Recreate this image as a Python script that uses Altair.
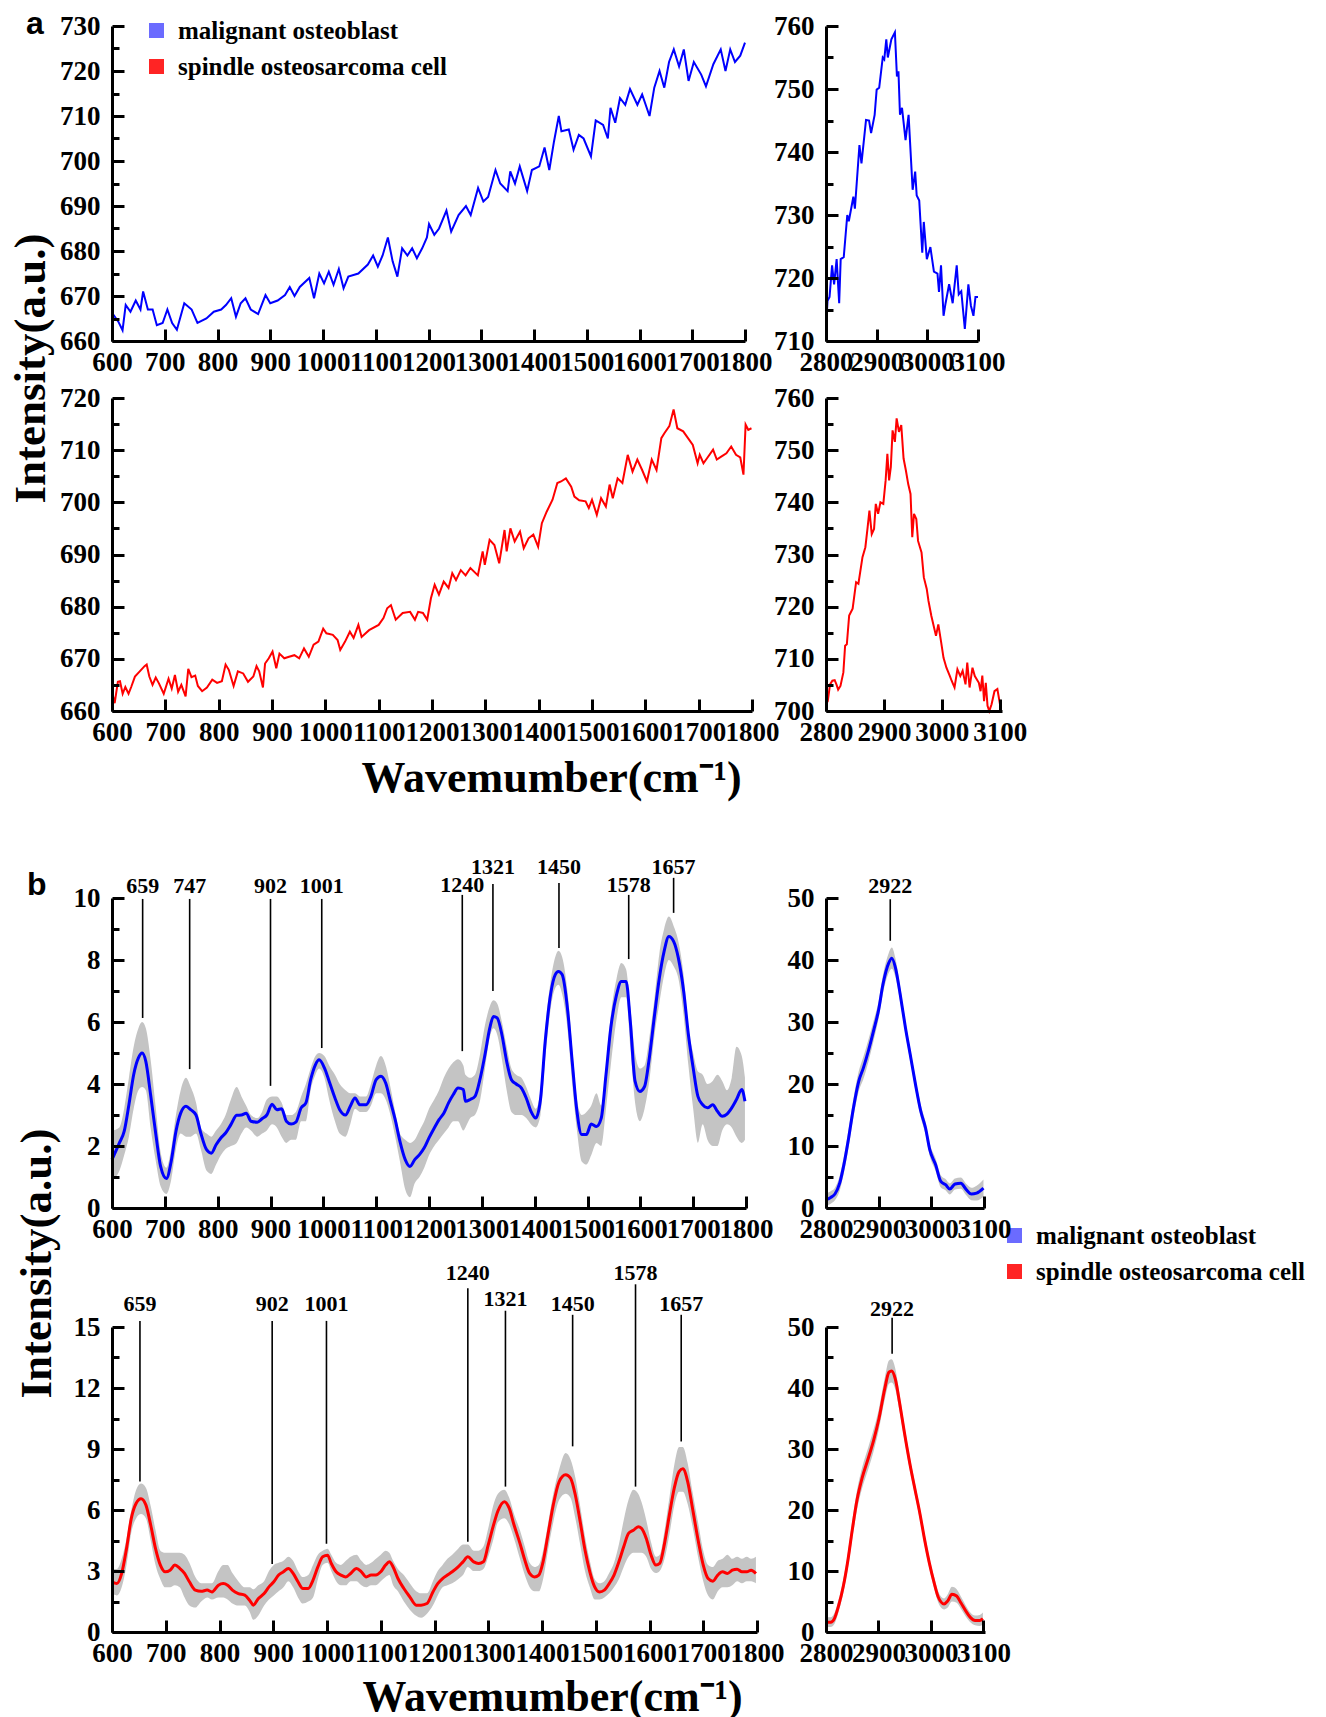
import altair as alt
import pandas as pd

SERIF = "Liberation Serif"
SANS = "Liberation Sans"
BLUE = "#0000ff"
RED = "#ff0000"
GRAY = "#c4c4c4"
SERIES = ["malignant osteoblast", "spindle osteosarcoma cell"]
LEGEND_COLORS = ["#6b6bff", "#ff2424"]

# ---------------- panel a : raw spectra ----------------
a1_wn = [600,603,612,620,626,635,645,654,659,668,677,685,696,705,714,723,737,751,762,779,793,807,816,826,835,844,853,863,877,891,900,914,928,937,946,956,974,983,993,1002,1011,1020,1030,1039,1048,1067,1085,1095,1104,1113,1123,1132,1141,1150,1160,1169,1178,1188,1197,1201,1211,1220,1234,1243,1257,1271,1280,1294,1304,1313,1327,1336,1350,1355,1364,1373,1387,1396,1410,1420,1429,1438,1447,1452,1466,1475,1485,1494,1508,1517,1531,1540,1545,1554,1563,1573,1582,1596,1605,1619,1628,1638,1647,1656,1665,1675,1684,1693,1703,1717,1726,1740,1754,1763,1772,1781,1791,1800]
a1_int = [666,665.8,664.3,662.4,668,666.5,669,667,671,667,667,663.5,664,667,664,662.5,668.4,667,664,665,666.5,667,668,669.5,665.4,668.4,669.5,667,666,670.2,668.4,669,670.2,672,670,672,674,669.5,675,672.8,675.4,672.5,676,671.7,674.3,675,677,679,676.5,679,683,677.7,674.3,680.6,679,680.6,678.4,680.6,683,686,683.6,685,689,684.3,688,690,688,694,691,692,698,695,693.3,697.7,695,698.8,693.3,698,698.8,703,698,704.4,710,706.6,707,702.5,705.8,705,701,709,708,705,711.8,708.5,714,712.5,716,712.5,714.8,710,716.3,720,716.3,722,724.8,721,724.8,717.8,722,719.2,716.6,721.5,724.8,720,724.8,722,723.4,726.3]

a1r_wn = [2800,2803,2807,2812,2816,2821,2826,2829,2835,2842,2845,2854,2857,2866,2870,2879,2885,2889,2896,2900,2905,2912,2915,2919,2922,2929,2936,2940,2943,2946,2950,2957,2963,2971,2976,2979,2984,2990,2993,2999,3006,3013,3020,3023,3027,3032,3036,3043,3050,3058,3062,3067,3074,3081,3086,3091,3095,3100]
a1r_int = [711.9,716.4,717,722,719,723,716,723,723.3,730,729,732.9,731,741.1,738.2,745.1,745,743,745.9,749.9,750.2,755,754.7,757.9,755,757.9,759,752,752.8,745.9,747,741.9,745.9,734,736.9,733.1,732.3,724,728.9,723,724.9,721,720.7,717.8,722,714,716,719,716,722,717.4,717.9,711.9,719,715.6,714,717,717]

a2_wn = [600,605,611,615,620,625,631,636,643,652,661,665,670,676,682,688,697,706,712,718,724,730,738,743,749,756,761,769,778,788,797,806,813,819,828,836,846,855,865,871,876,883,887,894,901,908,914,923,932,942,951,960,969,978,987,996,1002,1014,1023,1028,1037,1046,1053,1062,1068,1082,1100,1109,1116,1123,1132,1145,1159,1168,1174,1183,1191,1198,1205,1213,1222,1231,1238,1245,1254,1263,1272,1286,1295,1299,1308,1317,1326,1336,1340,1347,1355,1365,1372,1381,1390,1399,1406,1415,1426,1435,1442,1451,1461,1467,1476,1488,1494,1500,1509,1517,1526,1533,1539,1548,1557,1567,1576,1585,1594,1603,1612,1621,1630,1636,1645,1653,1660,1671,1680,1689,1698,1702,1709,1716,1727,1734,1743,1752,1761,1770,1778,1784,1788,1793,1799]
a2_int = [663.7,661.5,665.6,665.7,663.3,664.6,663.3,664.6,666.6,667.6,668.6,668.9,666.6,665,666.4,665.3,663.3,666.2,664.3,666.9,663.7,665,662.8,668.1,666.5,666.8,664.8,663.8,664.5,666,665.4,665.7,668.9,667.9,664.8,667.6,667.2,665.6,666.6,668.6,667.6,664.5,669.1,670.1,671.4,668.2,671,670.1,670.4,670.7,670.1,672,670.4,672.7,673.3,675.8,674.9,674.6,673.6,671.7,673.3,675.2,674,676.5,674.2,675.5,676.5,677.8,679.7,680.3,677.5,678.8,679,677.5,679,678.8,677.5,681.6,684.2,682.3,684.8,683.6,686.4,685.1,687,686,687.4,686,690.6,688,692.8,691.8,688.3,694.7,690.6,695,692.5,694.4,691.2,693.1,693.8,691.5,696,698.2,700.5,703.7,704,704.6,703,701.1,700.4,700.2,698.9,700.5,697.6,700.8,699.2,703.4,700.8,704.6,703.7,709.1,705.9,708.2,706.2,704,708.2,706.2,712.3,713.3,714.6,717.8,714.2,713.6,712.3,711,707.5,709.1,707.5,708.5,710.1,708.2,708.8,709.4,710.7,709.1,708.6,705.3,714.9,713.9,714.2]

a2r_wn = [2800,2803,2807,2811,2815,2818,2821,2825,2830,2833,2836,2840,2846,2852,2856,2863,2868,2872,2875,2879,2883,2886,2890,2894,2899,2903,2906,2909,2912,2915,2919,2922,2926,2930,2934,2938,2942,2946,2949,2952,2956,2959,2965,2969,2974,2977,2982,2990,2994,2999,3003,3008,3014,3017,3022,3027,3032,3036,3041,3044,3048,3053,3057,3064,3067,3070,3073,3076,3079,3082,3086,3091,3096,3101]
a2r_int = [701.3,701.9,705.1,705.8,705.9,705.1,704.1,704.8,707.4,712.5,712.8,718.3,719.6,724.7,724.4,729.5,731.4,735.3,738.4,733.9,734.9,739.7,737.8,740,739.7,744.2,749.3,744.2,746.8,753.8,751.6,756.1,753.5,754.8,748.4,746.1,743.5,741.6,733.3,737.8,736.8,732.6,730.4,725.6,723.4,721.1,718.2,714.4,716.6,713.1,710.2,708.3,706.7,705.8,704.5,708,706.7,707.7,705.1,709.3,704.5,708.3,706.7,705.4,703.8,706.8,701.9,705.4,701,700,701.3,703.8,704.2,701]

# ---------------- panel b : processed mean spectra with SD band ----------------
b1_wn = [600,614,623,632,641,650,657,664,673,683,692,703,712,721,730,740,749,759,768,779,788,797,806,815,825,836,845,854,863,875,884,893,903,912,921,930,939,948,958,967,976,985,992,1002,1011,1022,1031,1042,1051,1060,1069,1081,1090,1100,1109,1118,1127,1136,1145,1155,1164,1173,1182,1191,1200,1210,1219,1228,1237,1246,1255,1265,1269,1278,1287,1297,1306,1315,1322,1329,1338,1347,1356,1365,1375,1384,1393,1402,1411,1420,1430,1439,1445,1452,1462,1471,1480,1489,1498,1507,1517,1526,1535,1544,1555,1564,1573,1581,1590,1599,1608,1617,1627,1636,1645,1654,1663,1672,1682,1691,1700,1709,1718,1727,1737,1746,1755,1764,1773,1782,1792,1798]
b1_mean = [1.56,2.1,2.47,3.33,4.3,4.84,5.0,4.73,3.66,2.37,1.34,0.95,1.5,2.47,3.06,3.28,3.17,3.0,2.42,1.88,1.77,2.04,2.26,2.42,2.69,2.99,3.0,3.06,2.8,2.77,2.88,3.0,3.35,3.17,3.2,2.8,2.71,2.77,3.23,3.39,4.14,4.62,4.78,4.52,4.09,3.55,3.17,3.0,3.28,3.55,3.33,3.33,3.6,4.14,4.25,4.03,3.44,2.85,2.15,1.56,1.34,1.56,1.72,1.94,2.26,2.58,2.85,3.06,3.39,3.66,3.87,3.82,3.44,3.5,3.6,4.19,4.95,5.8,6.18,6.13,5.59,4.73,4.14,4.0,3.87,3.55,3.12,2.9,3.5,5.38,6.88,7.53,7.63,7.53,6.45,4.73,3.12,2.37,2.37,2.71,2.63,2.9,4.3,5.8,6.88,7.31,7.31,6.02,4.09,3.76,3.92,4.84,6.24,7.42,8.28,8.76,8.6,8.06,6.99,5.59,4.52,3.6,3.33,3.23,3.33,3.12,2.96,3.03,3.23,3.5,3.82,3.44]
b1_upper = [2.5,2.6,3.2,4.2,5.2,5.8,6.0,5.8,4.8,3.2,1.8,1.3,1.9,3.0,3.8,4.2,3.9,3.4,2.6,2.4,2.3,2.5,2.7,3.0,3.5,3.9,3.6,3.3,3.0,2.9,3.1,3.5,3.6,3.6,3.4,3.0,3.0,3.1,3.6,4.0,4.5,4.9,5.0,4.9,4.6,4.3,4.0,3.8,3.7,3.7,3.6,3.6,4.0,4.6,4.9,4.6,3.9,3.1,2.4,2.2,2.1,2.2,2.5,2.8,3.2,3.5,3.8,4.2,4.5,4.7,4.8,4.6,4.3,4.2,4.3,5.0,5.9,6.5,6.7,6.6,6.0,5.2,4.5,4.3,4.2,3.9,3.5,3.2,3.8,5.8,7.3,8.1,8.3,8.1,7.0,5.2,3.5,3.0,3.1,3.3,3.7,3.3,4.6,6.2,7.4,7.9,7.7,6.5,5.0,4.5,4.6,5.5,6.8,8.2,9.0,9.4,9.1,8.6,7.5,5.8,5.0,4.4,4.3,4.0,4.1,4.3,4.1,3.8,4.2,5.2,4.9,4.2]
b1_lower = [0.9,1.2,1.7,2.3,3.2,3.8,3.9,3.8,2.6,1.5,0.7,0.45,0.9,1.9,2.4,2.3,2.3,2.4,1.9,1.2,1.1,1.4,1.7,1.9,2.0,2.1,2.4,2.6,2.5,2.3,2.4,2.5,2.7,2.6,2.3,2.1,2.2,2.2,2.8,2.8,3.8,4.3,4.5,4.2,3.5,2.8,2.4,2.3,2.7,3.2,3.1,3.1,3.3,3.7,3.7,3.5,3.0,2.3,1.5,0.6,0.35,0.8,1.0,1.3,1.7,2.0,2.2,2.4,2.6,2.8,2.8,2.5,2.6,2.9,3.0,3.5,4.5,5.5,5.8,5.6,4.8,3.8,3.1,3.0,3.0,2.9,2.7,2.6,3.0,4.8,6.4,7.1,7.2,6.9,5.8,4.0,2.5,1.5,1.4,1.7,2.1,2.0,3.2,4.6,6.1,6.8,6.8,5.2,3.4,2.8,3.2,4.1,5.6,6.6,7.5,8.0,7.8,7.4,6.2,4.6,3.2,2.1,2.7,2.2,2.0,2.0,2.5,2.7,2.6,2.3,2.1,2.2]

b1r_wn = [2800,2809,2817,2826,2834,2843,2852,2862,2871,2881,2891,2900,2908,2919,2925,2932,2941,2951,2960,2970,2980,2989,2997,3008,3018,3027,3035,3045,3056,3066,3076,3086,3099]
b1r_mean = [1.34,1.7,2.26,4.0,7.0,11.3,16.1,20.4,22.6,25.5,28.8,32,36,39.5,40.3,38.7,34.4,29,24.7,19.9,15.6,12.9,9.4,7,4.3,3.76,3.06,3.87,4.0,3.0,2.26,2.4,3.2]
b1r_sd = [1.0,1.0,1.0,1.2,1.3,1.5,1.5,1.6,1.8,1.8,1.6,1.4,1.5,1.6,1.7,1.5,1.2,1.0,1.0,1.0,1.0,1.0,1.0,1.0,1.0,0.9,0.9,0.9,0.9,0.9,1.0,1.2,1.4]

b2_wn = [600,609,618,627,636,645,654,663,672,681,690,699,708,717,726,735,744,755,766,777,786,798,807,815,824,835,847,856,863,872,883,892,901,910,919,928,937,946,955,965,974,983,992,1001,1008,1017,1026,1035,1044,1055,1064,1073,1082,1091,1100,1109,1116,1123,1132,1143,1154,1166,1175,1186,1197,1206,1215,1224,1233,1244,1253,1262,1273,1282,1291,1300,1309,1318,1330,1339,1348,1359,1368,1377,1386,1394,1402,1411,1421,1432,1444,1453,1462,1471,1480,1489,1498,1507,1516,1525,1534,1543,1552,1561,1570,1579,1585,1594,1603,1612,1619,1628,1637,1646,1655,1662,1671,1680,1691,1700,1709,1718,1727,1736,1745,1754,1763,1772,1781,1789,1798]
b2_mean = [2.47,2.38,2.88,4.1,5.6,6.33,6.55,6.25,5.26,4.1,3.29,2.96,3.04,3.29,3.13,2.88,2.47,2.06,2.0,2.06,1.97,2.3,2.38,2.3,2.06,1.89,1.81,1.56,1.32,1.64,1.89,2.22,2.47,2.8,2.96,3.12,2.88,2.47,2.14,2.14,2.55,3.2,3.7,3.78,3.37,2.96,2.8,2.71,2.88,3.12,2.96,2.71,2.8,2.8,2.96,3.29,3.45,3.2,2.63,2.14,1.73,1.32,1.32,1.4,1.97,2.38,2.63,2.8,2.96,3.2,3.45,3.7,3.45,3.37,3.45,4.28,5.18,5.95,6.41,6.09,5.26,4.36,3.54,2.88,2.71,2.8,3.45,4.77,6.25,7.4,7.73,7.57,6.74,5.43,4.03,2.96,2.22,1.97,2.06,2.38,2.8,3.45,4.19,4.85,5.0,5.18,5.1,4.6,3.78,3.29,3.37,4.36,5.76,7.07,7.89,8.03,7.4,6.09,4.44,3.29,2.63,2.5,2.8,2.96,2.88,3.04,3.09,2.96,2.96,3.04,2.88]
b2_upper = [3.1,3.1,3.6,4.6,6.0,7.0,7.3,7.1,6.2,5.0,4.0,3.9,3.9,3.9,3.9,3.8,3.4,2.7,2.4,2.4,2.4,3.0,3.3,3.3,2.9,2.5,2.2,2.2,2.1,2.3,2.5,3.0,3.3,3.4,3.5,3.7,3.5,3.0,2.7,2.8,3.3,3.8,4.0,4.1,3.8,3.4,3.3,3.5,3.7,3.8,3.5,3.3,3.4,3.6,3.8,4.0,3.9,3.5,3.1,2.8,2.4,2.0,1.9,1.9,2.5,3.0,3.3,3.6,3.8,4.1,4.3,4.3,4.0,4.0,4.2,5.1,6.2,6.8,7.0,6.6,5.8,5.0,4.2,3.4,3.2,3.3,4.0,5.3,6.8,8.0,8.8,8.5,7.6,6.2,4.7,3.5,2.6,2.4,2.5,2.9,3.4,4.3,5.5,6.5,7.0,6.8,6.4,5.5,4.4,3.7,3.8,5.0,6.6,8.2,9.1,9.1,8.3,6.9,5.3,4.0,3.3,3.2,3.5,3.6,3.8,3.6,3.7,3.6,3.7,3.6,3.7]
b2_lower = [1.9,1.8,2.2,3.3,4.9,5.6,5.8,5.6,4.5,3.3,2.6,2.2,2.2,2.3,2.2,1.7,1.3,1.2,1.5,1.7,1.6,1.7,1.7,1.6,1.4,1.3,1.3,1.0,0.6,0.8,1.3,1.6,1.8,2.0,2.2,2.5,2.2,1.7,1.4,1.5,1.7,2.6,3.3,3.4,3.0,2.5,2.3,2.3,2.5,2.5,2.3,2.2,2.3,2.3,2.5,2.7,2.8,2.3,2.0,1.5,1.1,0.8,0.7,0.9,1.3,1.8,2.2,2.3,2.4,2.6,2.8,3.2,3.0,3.0,3.1,3.7,4.5,5.4,5.6,5.3,4.6,3.6,2.8,2.2,2.0,2.0,2.6,4.0,5.4,6.5,6.8,6.6,5.6,4.3,3.0,2.2,1.6,1.6,1.7,1.9,2.2,2.6,3.2,3.7,3.9,3.9,3.9,3.7,3.1,2.9,3.0,3.6,4.8,6.2,6.9,6.9,6.3,5.2,3.6,2.5,1.8,1.6,2.0,2.2,2.2,2.3,2.5,2.4,2.5,2.5,2.4]

b2r_wn = [2800,2809,2816,2824,2833,2842,2850,2859,2869,2881,2891,2901,2912,2920,2925,2932,2940,2949,2960,2970,2979,2988,2997,3006,3014,3025,3032,3040,3049,3057,3066,3075,3084,3093,3099]
b2r_mean = [1.6,1.6,2.2,4.3,7.5,11.9,16.7,21.6,25.3,28.6,31.5,35,39.9,42.6,42.8,41.5,37.7,32.9,27.5,23.2,19.4,15.1,11.3,8.1,5.7,4.6,5.1,6.2,5.9,4.8,3.5,2.4,1.9,1.9,2.2]
b2r_sd = [0.8,0.8,0.9,1.0,1.1,1.3,1.5,1.6,1.7,1.8,1.8,1.7,1.8,1.9,1.9,1.7,1.4,1.2,1.1,1.0,1.0,1.0,0.9,0.9,0.9,0.9,1.1,1.2,1.1,1.0,0.9,0.8,0.8,0.9,1.0]

# peak annotations
b1_peak_label = ["659", "747", "902", "1001", "1240", "1321", "1450", "1578", "1657"]
b1_peak_pos = [658, 747, 900, 997, 1263, 1321, 1446, 1578, 1663]
b1_peak_bottom = [6.13, 4.48, 3.94, 5.16, 5.06, 7.0, 8.39, 8.03, 9.52]
b1_peak_top = [9.97, 9.97, 9.97, 9.97, 10.1, 10.45, 10.48, 10.1, 10.65]
b1_peak_text = [10.16, 10.16, 10.16, 10.16, 10.2, 10.77, 10.77, 10.2, 10.77]

b2_peak_label = ["659", "902", "1001", "1240", "1321", "1450", "1578", "1657"]
b2_peak_pos = [652, 898, 999, 1262, 1332, 1457, 1574, 1659]
b2_peak_bottom = [7.4, 3.35, 4.34, 4.44, 7.15, 9.13, 7.15, 9.37]
b2_peak_top = [15.3, 15.3, 15.3, 16.9, 15.8, 15.6, 17.1, 15.6]
b2_peak_text = [15.8, 15.8, 15.8, 17.3, 16.05, 15.8, 17.3, 15.8]

b1r_peak_label = ["2922"]
b1r_peak_pos = [2922]
b1r_peak_bottom = [43.1]
b1r_peak_top = [49.8]
b1r_peak_text = [50.8]

b2r_peak_label = ["2922"]
b2r_peak_pos = [2926]
b2r_peak_bottom = [45.6]
b2r_peak_top = [51.5]
b2r_peak_text = [51.8]


def frame(**cols):
    n = min(len(v) for v in cols.values())
    return pd.DataFrame({k: list(v)[:n] for k, v in cols.items()})


LABEL_AX = dict(labelFont=SERIF, labelFontSize=27, labelFontWeight="bold", labelColor="black",
                labelOverlap=False, labelFlush=False, labelBound=False, ticks=False, grid=False,
                domain=True, domainColor="black", domainWidth=3, format="d", zindex=2)


def main_x_axis(vals, title_kw):
    kw = dict(LABEL_AX, values=vals, orient="bottom", labelPadding=8)
    kw.update(title_kw if title_kw else {"title": None})
    return alt.Axis(**kw)


def main_y_axis(vals, title_kw):
    kw = dict(LABEL_AX, values=vals, orient="left", labelPadding=12)
    kw.update(title_kw if title_kw else {"title": None})
    return alt.Axis(**kw)


def tick_axis(vals, orient, size):
    return alt.Axis(values=vals, orient=orient, labels=False, domain=False, ticks=True,
                    tickSize=size, tickWidth=3, tickColor="black", offset=-size,
                    grid=False, title=None, zindex=2)


def panel(content, xdom, ydom, xvals, yvals, yminor, w, h, xtitle=None, ytitle=None, title=None):
    xs = alt.Scale(domain=xdom, nice=False, zero=False)
    ys = alt.Scale(domain=ydom, nice=False, zero=False)
    layers = [c(xs, ys) for c in content]
    axdf = frame(x=[xdom[0], xdom[1]], y=[ydom[0], ydom[1]])
    base = alt.Chart(axdf).mark_line(opacity=0)
    layers.append(base.encode(x=alt.X("x:Q", scale=xs, axis=main_x_axis(xvals, xtitle)),
                              y=alt.Y("y:Q", scale=ys, axis=main_y_axis(yvals, ytitle))))
    layers.append(base.encode(x=alt.X("x:Q", scale=xs, axis=tick_axis(xvals, "bottom", 12)),
                              y=alt.Y("y:Q", scale=ys, axis=None)))
    layers.append(base.encode(x=alt.X("x:Q", scale=xs, axis=None),
                              y=alt.Y("y:Q", scale=ys, axis=tick_axis(yvals, "left", 12))))
    layers.append(base.encode(x=alt.X("x:Q", scale=xs, axis=None),
                              y=alt.Y("y:Q", scale=ys, axis=tick_axis(yminor, "left", 7))))
    ch = alt.layer(*layers).resolve_axis(x="independent", y="independent").properties(width=w, height=h)
    if title is not None:
        ch = ch.properties(title=title)
    return ch


def line_layer(df, color, width, interp="linear"):
    def f(xs, ys):
        return alt.Chart(df).mark_line(color=color, strokeWidth=width, interpolate=interp).encode(
            x=alt.X("wn:Q", scale=xs, axis=None), y=alt.Y("v:Q", scale=ys, axis=None))
    return f


def band_layer(df):
    def f(xs, ys):
        return alt.Chart(df).mark_area(color=GRAY, opacity=1, interpolate="monotone").encode(
            x=alt.X("wn:Q", scale=xs, axis=None), y=alt.Y("up:Q", scale=ys, axis=None), y2="lo:Q")
    return f


def peak_layers(df):
    def rules(xs, ys):
        return alt.Chart(df).mark_rule(color="black", strokeWidth=1.6).encode(
            x=alt.X("pos:Q", scale=xs, axis=None), y=alt.Y("bot:Q", scale=ys, axis=None), y2="top:Q")

    def texts(xs, ys):
        return alt.Chart(df).mark_text(font=SERIF, fontSize=22, fontWeight="bold", color="black",
                                       align="center", baseline="alphabetic").encode(
            x=alt.X("pos:Q", scale=xs, axis=None), y=alt.Y("ty:Q", scale=ys, axis=None), text="label:N")
    return [rules, texts]


legend_df = frame(series=SERIES)


def legend_layer(lx, ly):
    def f(xs, ys):
        return alt.Chart(legend_df).mark_square(opacity=0).encode(
            color=alt.Color("series:N", scale=alt.Scale(domain=SERIES, range=LEGEND_COLORS),
                            legend=alt.Legend(orient="none", legendX=lx, legendY=ly, title=None,
                                              labelFont=SERIF, labelFontSize=25, labelFontWeight="bold",
                                              labelColor="black", labelLimit=500, symbolType="square",
                                              symbolSize=225, symbolStrokeWidth=0, symbolOpacity=1,
                                              rowPadding=10, labelOffset=9, padding=0)))
    return f


XT = dict(title="Wavemumber(cm\u207b\u00b9)", titleFont=SERIF, titleFontSize=44, titleFontWeight="bold",
          titleColor="black", titleAlign="center", titleBaseline="alphabetic")
YT = dict(title="Intensity(a.u.)", titleFont=SERIF, titleFontSize=45, titleFontWeight="bold",
          titleColor="black", titleAngle=270, titleAlign="center", titleBaseline="alphabetic")


def sec_title(txt, dx, dy):
    return alt.TitleParams(txt, anchor="start", orient="top", frame="group", font=SANS, fontSize=32,
                           fontWeight="bold", color="black", offset=0, dx=dx, dy=dy, baseline="alphabetic")


LEFT_X = list(range(600, 1801, 100))
RIGHT_X = [2800, 2900, 3000, 3100]

# data frames
a1_df = frame(wn=a1_wn, v=a1_int)
a1r_df = frame(wn=a1r_wn, v=a1r_int)
a2_df = frame(wn=a2_wn, v=a2_int)
a2r_df = frame(wn=a2r_wn, v=a2r_int)
b1_df = frame(wn=b1_wn, v=b1_mean, up=b1_upper, lo=b1_lower)
b1r_df = frame(wn=b1r_wn, v=b1r_mean, up=[m + s for m, s in zip(b1r_mean, b1r_sd)],
               lo=[m - s for m, s in zip(b1r_mean, b1r_sd)])
b2_df = frame(wn=b2_wn, v=b2_mean, up=b2_upper, lo=b2_lower)
b2r_df = frame(wn=b2r_wn, v=b2r_mean, up=[m + s for m, s in zip(b2r_mean, b2r_sd)],
               lo=[m - s for m, s in zip(b2r_mean, b2r_sd)])
b1_pk = frame(label=b1_peak_label, pos=b1_peak_pos, bot=b1_peak_bottom, top=b1_peak_top, ty=b1_peak_text)
b2_pk = frame(label=b2_peak_label, pos=b2_peak_pos, bot=b2_peak_bottom, top=b2_peak_top, ty=b2_peak_text)
b1r_pk = frame(label=b1r_peak_label, pos=b1r_peak_pos, bot=b1r_peak_bottom, top=b1r_peak_top, ty=b1r_peak_text)
b2r_pk = frame(label=b2r_peak_label, pos=b2r_peak_pos, bot=b2r_peak_bottom, top=b2r_peak_top, ty=b2r_peak_text)

W_L = 645
a1L = panel([line_layer(a1_df, BLUE, 2), legend_layer(32, -8)], [600, 1800], [660, 730], LEFT_X,
            list(range(660, 731, 10)), list(range(665, 730, 10)), 633, 315,
            ytitle=dict(YT, titleX=-68, titleY=342), title=sec_title("a", -86, 54))
a1R = panel([line_layer(a1r_df, BLUE, 2)], [2800, 3100], [710, 760], RIGHT_X,
            list(range(710, 761, 10)), list(range(715, 760, 10)), 152, 315)
a2L = panel([line_layer(a2_df, RED, 2)], [600, 1800], [660, 720], LEFT_X,
            list(range(660, 721, 10)), list(range(665, 720, 10)), 640, 313,
            xtitle=dict(XT, titleX=439, titleY=80))
a2R = panel([line_layer(a2r_df, RED, 2)], [2800, 3104], [700, 760], RIGHT_X,
            list(range(700, 761, 10)), list(range(705, 760, 10)), 176, 313)
b1L = panel([band_layer(b1_df), line_layer(b1_df, BLUE, 3, "monotone")] + peak_layers(b1_pk),
            [600, 1800], [0, 10], LEFT_X, list(range(0, 11, 2)), [1, 3, 5, 7, 9], 634, 310,
            ytitle=dict(YT, titleX=-62, titleY=365), title=sec_title("b", -85, 71))
b1R = panel([band_layer(b1r_df), line_layer(b1r_df, BLUE, 3, "monotone")] + peak_layers(b1r_pk)
            + [legend_layer(176, 325)],
            [2800, 3100], [0, 50], RIGHT_X, list(range(0, 51, 10)), list(range(5, 50, 10)), 158, 310)
b2L = panel([band_layer(b2_df), line_layer(b2_df, RED, 3, "monotone")] + peak_layers(b2_pk),
            [600, 1800], [0, 15], LEFT_X, list(range(0, 16, 3)), [1.5, 4.5, 7.5, 10.5, 13.5], W_L, 305,
            xtitle=dict(XT, titleX=440, titleY=78))
b2R = panel([band_layer(b2r_df), line_layer(b2r_df, RED, 3, "monotone")] + peak_layers(b2r_pk),
            [2800, 3103], [0, 50], RIGHT_X, list(range(0, 51, 10)), list(range(5, 50, 10)), 159, 305)

spacer_df = frame(v=[0])


def spacer(h):
    return alt.Chart(spacer_df).mark_point(opacity=0).encode(
        x=alt.X("v:Q", axis=None), y=alt.Y("v:Q", axis=None)).properties(width=1, height=h)


chart = alt.concat(
    a1L, a1R, a2L, a2R, spacer(73), spacer(73), b1L, b1R, spacer(5), spacer(5), b2L, b2R,
    columns=2, spacing={"row": 57, "column": 69}, bounds="flush", align="each",
).resolve_scale(color="independent").configure_view(stroke=None).properties(
    padding={"left": 0, "top": 0, "right": 0, "bottom": 0})

chart.save("out.html", embed_options={"renderer": "svg", "actions": False})
